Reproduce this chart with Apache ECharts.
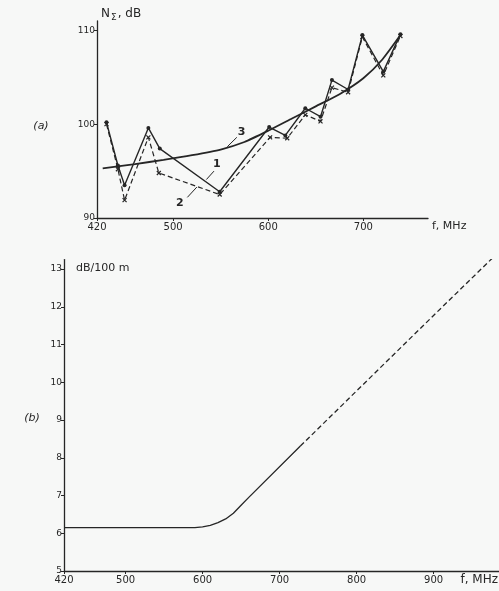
<!DOCTYPE html>
<html><head><meta charset="utf-8">
<script src="https://cdn.jsdelivr.net/npm/echarts@6/dist/echarts.min.js"></script>
<style>html,body{margin:0;padding:0;background:#f7f8f7}#c{width:499px;height:591px}</style>
</head><body><div id="c"></div>
<script>
// Panel (a) ticks
const ticksAx = [420, 500, 600, 700];
const ticksAy = [90, 100, 110];
// Panel (b) ticks
const ticksBx = [420, 500, 600, 700, 800, 900];
const ticksBy = [5, 6, 7, 8, 9, 10, 11, 12, 13];
// Panel (a) curve 1 (solid, measured)
const f1 = [430, 442, 449, 474, 486, 549, 601, 618, 639, 655, 667, 684, 699, 721, 739];
const n1 = [100.2, 95.6, 93.5, 99.6, 97.4, 92.8, 99.7, 98.8, 101.7, 100.8, 104.7, 103.7, 109.5, 105.6, 109.6];
// Panel (a) curve 2 (dashed)
const f2 = [430, 442, 449, 474, 485, 549, 602, 620, 639, 655, 667, 684, 699, 721, 739];
const n2 = [100.0, 95.2, 91.9, 98.6, 94.8, 92.5, 98.6, 98.5, 101.0, 100.3, 103.9, 103.4, 109.3, 105.2, 109.4];
// Panel (a) curve 3 (smooth)
const f3 = [426, 460, 490, 520, 550, 575, 600, 625, 650, 675, 700, 720, 739];
const n3 = [95.3, 95.75, 96.2, 96.7, 97.3, 98.1, 99.3, 100.6, 101.9, 103.2, 104.9, 106.9, 109.5];
// Panel (b) attenuation, solid part and dashed extrapolation
const fb = [420, 500, 580, 590, 600, 610, 620, 630, 640, 650, 660, 727];
const ab = [6.15, 6.15, 6.15, 6.15, 6.17, 6.21, 6.28, 6.38, 6.53, 6.74, 6.95, 8.31];
const fbd = [727, 800, 900, 983];
const abd = [8.31, 9.77, 11.77, 13.42];

const INK = '#262626';
const FONT = 'DejaVu Sans';
const zip = (a, b) => a.map((x, i) => [x, b[i]]);

const chart = echarts.init(document.getElementById('c'), null, {renderer: 'canvas'});

const axisCommon = {
  axisLine: {show: true, onZero: false, lineStyle: {color: INK, width: 1.3}},
  axisTick: {show: true, length: 3, lineStyle: {color: INK, width: 1}},
  splitLine: {show: false},
  axisLabel: {color: INK, fontFamily: FONT, fontSize: 10, margin: 3}
};

function xAxis(gi, min, max, ticks) {
  return Object.assign({}, axisCommon, {
    type: 'value', gridIndex: gi, min: min, max: max,
    axisTick: Object.assign({}, axisCommon.axisTick, {customValues: ticks}),
    axisLabel: Object.assign({}, axisCommon.axisLabel, {customValues: ticks, margin: 4})
  });
}
function yAxis(gi, min, max, ticks, fs) {
  return Object.assign({}, axisCommon, {
    type: 'value', gridIndex: gi, min: min, max: max,
    axisTick: Object.assign({}, axisCommon.axisTick, {customValues: ticks}),
    axisLabel: Object.assign({}, axisCommon.axisLabel, {customValues: ticks, fontSize: fs, margin: 2})
  });
}

const crossPath = 'path://M0,0L10,10M10,0L0,10';

chart.setOption({
  backgroundColor: '#f7f8f7',
  animation: false,
  grid: [
    {left: 97, top: 21, width: 331, height: 197},
    {left: 64, top: 259.6, width: 435, height: 311.4}
  ],
  xAxis: [xAxis(0, 420, 768, ticksAx), xAxis(1, 420, 985, ticksBx)],
  yAxis: [yAxis(0, 90, 111, ticksAy, 9), yAxis(1, 5, 13.25, ticksBy, 9)],
  series: [
    {type: 'line', xAxisIndex: 0, yAxisIndex: 0, data: zip(f1, n1),
     lineStyle: {color: INK, width: 1.4}, symbol: 'circle', symbolSize: 4,
     itemStyle: {color: INK}},
    {type: 'line', xAxisIndex: 0, yAxisIndex: 0, data: zip(f2, n2),
     lineStyle: {color: INK, width: 1.2, type: [5, 3]}, symbol: crossPath, symbolSize: 4,
     itemStyle: {color: 'transparent', borderColor: INK, borderWidth: 1.2}},
    {type: 'line', xAxisIndex: 0, yAxisIndex: 0, data: zip(f3, n3), smooth: 0.2,
     lineStyle: {color: INK, width: 1.8}, symbol: 'none'},
    {type: 'line', xAxisIndex: 1, yAxisIndex: 1, data: zip(fb, ab), smooth: false,
     lineStyle: {color: INK, width: 1.3, join: 'round'}, symbol: 'none'},
    {type: 'line', xAxisIndex: 1, yAxisIndex: 1, data: zip(fbd, abd),
     lineStyle: {color: INK, width: 1.3, type: [5, 3]}, symbol: 'none'}
  ]
});

// annotations anchored in data coordinates (panel a)
const notes = [
  {t: '1', at: [546, 95.7], from: [543, 95.0], to: [535, 94.1]},
  {t: '2', at: [507, 91.6], from: [515, 92.2], to: [525, 93.3]},
  {t: '3', at: [572, 99.2], from: [567, 98.6], to: [557, 97.6]}
];
const g = [];
notes.forEach(n => {
  const p = chart.convertToPixel({gridIndex: 0}, n.at);
  const a = chart.convertToPixel({gridIndex: 0}, n.from);
  const b = chart.convertToPixel({gridIndex: 0}, n.to);
  g.push({type: 'text', x: p[0], y: p[1], style: {text: n.t, fill: INK, font: 'bold 11px ' + FONT, align: 'center', verticalAlign: 'middle'}});
  g.push({type: 'line', shape: {x1: a[0], y1: a[1], x2: b[0], y2: b[1]}, style: {stroke: INK, lineWidth: 1}});
});
g.push({type: 'text', x: 101, y: 14, style: {
  text: '{n|N}{s|Σ}{t|, dB}', verticalAlign: 'middle', fill: INK,
  rich: {n: {font: '12px ' + FONT, fill: INK}, s: {font: '9px ' + FONT, fill: INK, padding: [8, 1, 0, 1]}, t: {font: '12px ' + FONT, fill: INK}}
}});
g.push({type: 'text', x: 432, y: 226, style: {text: 'f, MHz', fill: INK, font: '11px ' + FONT, align: 'left', verticalAlign: 'middle'}});
g.push({type: 'text', x: 76, y: 268, style: {text: 'dB/100 m', fill: INK, font: '11px ' + FONT, align: 'left', verticalAlign: 'middle'}});
g.push({type: 'text', x: 498, y: 580, style: {text: 'f, MHz', fill: INK, font: '12px ' + FONT, align: 'right', verticalAlign: 'middle'}});
g.push({type: 'text', x: 41, y: 126, style: {text: '(a)', fill: INK, font: 'italic 11px ' + FONT, align: 'center', verticalAlign: 'middle'}});
g.push({type: 'text', x: 32, y: 418, style: {text: '(b)', fill: INK, font: 'italic 11px ' + FONT, align: 'center', verticalAlign: 'middle'}});
chart.setOption({graphic: g});
</script>
</body></html>
